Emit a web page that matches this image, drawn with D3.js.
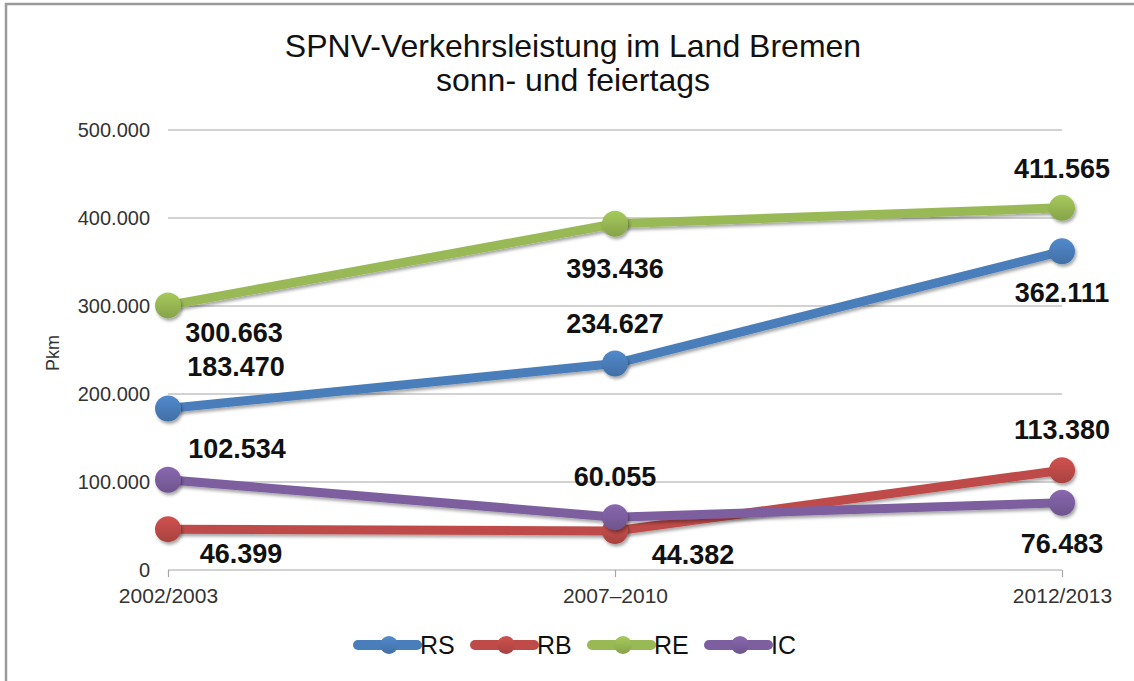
<!DOCTYPE html>
<html>
<head>
<meta charset="utf-8">
<script src="https://cdn.jsdelivr.net/npm/d3@7"></script>
<style>
  body { margin: 0; background: #fff; }
  svg { font-family: "Liberation Sans", Arial, sans-serif; }
</style>
</head>
<body>
<div id="chart"></div>
<script>
const categories = ["2002/2003", "2007\u20132010", "2012/2013"];
const seriesNames = ["RS", "RB", "RE", "IC"];
const rsValues = [183470, 234627, 362111];
const rbValues = [46399, 44382, 113380];
const reValues = [300663, 393436, 411565];
const icValues = [102534, 60055, 76483];
const yTicks = [0, 100000, 200000, 300000, 400000, 500000];

const colors = ["#4a7ebb", "#be4b48", "#98b954", "#7d5fa0"];
// label centre offsets (dx, dy from point), hand placed like the original
const labelOffsets = [
  [[68, -43], [0, -41], [0, 41]],
  [[73, 24], [78, 23], [0, -41]],
  [[66, 27], [0, 44], [0, -40]],
  [[69, -32], [0, -41], [0, 40]]
];

const series = seriesNames.map((name, i) => ({
  name, color: colors[i],
  values: [rsValues, rbValues, reValues, icValues][i]
}));

const width = 1134, height = 681;
const svg = d3.select("#chart").append("svg")
  .attr("width", width).attr("height", height);

const defs = svg.append("defs");
const shadow = defs.append("filter").attr("id", "shadow")
  .attr("x", "-20%").attr("y", "-20%").attr("width", "150%").attr("height", "150%");
shadow.append("feDropShadow").attr("dx", 1.5).attr("dy", 2.5)
  .attr("stdDeviation", 1.8).attr("flood-color", "#000").attr("flood-opacity", 0.35);

series.forEach((s, i) => {
  const g = defs.append("linearGradient").attr("id", "grad" + i)
    .attr("x1", 0).attr("y1", 0).attr("x2", 0).attr("y2", 1);
  g.append("stop").attr("offset", "0%").attr("stop-color", d3.color(s.color).brighter(0.25));
  g.append("stop").attr("offset", "100%").attr("stop-color", d3.color(s.color).darker(0.35));
});

// outer frame
svg.append("rect").attr("x", 6).attr("y", 4).attr("width", 1140).attr("height", 700)
  .attr("fill", "none").attr("stroke", "#9a9a9a").attr("stroke-width", 2.5);

const x = d3.scalePoint().domain(categories).range([168, 1062]);
const y = d3.scaleLinear().domain([0, 500000]).range([570, 130]);
const fmt = d3.formatLocale({ decimal: ",", thousands: ".", grouping: [3] }).format(",");

// gridlines
svg.append("g").selectAll("line").data(yTicks.slice(1)).join("line")
  .attr("x1", 168).attr("x2", 1062)
  .attr("y1", d => y(d)).attr("y2", d => y(d))
  .attr("stroke", "#a6a6a6").attr("stroke-width", 1.2);

// y tick labels
svg.append("g").selectAll("text").data(yTicks).join("text")
  .attr("x", 150).attr("y", d => y(d) + 7)
  .attr("text-anchor", "end").attr("font-size", 20).attr("fill", "#333")
  .text(d => fmt(d));

// x axis
const xAxis = svg.append("g").attr("transform", "translate(0,570)")
  .call(d3.axisBottom(x).tickSize(7).tickPadding(11).tickSizeOuter(0));
xAxis.select(".domain").attr("stroke", "#a6a6a6").attr("stroke-width", 1.2)
  .attr("d", "M168,0H1062");
xAxis.selectAll(".tick line").attr("stroke", "#a6a6a6").attr("stroke-width", 1.2);
xAxis.selectAll(".tick text").attr("font-size", 21).attr("fill", "#333")
  .attr("font-family", "Liberation Sans, Arial, sans-serif");

// y axis title
svg.append("text").attr("transform", "translate(59,353) rotate(-90)")
  .attr("text-anchor", "middle").attr("font-size", 18).attr("fill", "#333").text("Pkm");

// title
const title = svg.append("text").attr("x", 573).attr("text-anchor", "middle")
  .attr("font-size", 32).attr("fill", "#111");
title.append("tspan").attr("x", 573).attr("y", 57).text("SPNV-Verkehrsleistung im Land Bremen");
title.append("tspan").attr("x", 573).attr("y", 91).text("sonn- und feiertags");

// series
const line = d3.line().x((d, i) => x(categories[i])).y(d => y(d));
series.forEach((s, si) => {
  const g = svg.append("g");
  g.append("path").attr("d", line(s.values))
    .attr("fill", "none").attr("stroke", s.color).attr("stroke-width", 9)
    .attr("stroke-linejoin", "round").attr("filter", "url(#shadow)");
  g.selectAll("circle").data(s.values).join("circle")
    .attr("cx", (d, i) => x(categories[i])).attr("cy", d => y(d))
    .attr("r", 13).attr("fill", `url(#grad${si})`).attr("filter", "url(#shadow)");
});

// data labels
series.forEach((s, si) => {
  svg.append("g").selectAll("text").data(s.values).join("text")
    .attr("x", (d, i) => x(categories[i]) + labelOffsets[si][i][0])
    .attr("y", (d, i) => y(d) + labelOffsets[si][i][1] + 10)
    .attr("text-anchor", "middle").attr("font-size", 27).attr("font-weight", "bold")
    .attr("fill", "#111").text(d => fmt(d));
});

// legend
const legend = svg.append("g").attr("transform", "translate(358,645)");
const item = legend.selectAll("g").data(series).join("g")
  .attr("transform", (d, i) => `translate(${i * 117},0)`);
item.append("line").attr("x1", 0).attr("x2", 59)
  .attr("stroke", d => d.color).attr("stroke-width", 10).attr("stroke-linecap", "round");
item.append("circle").attr("cx", 31).attr("r", 9)
  .attr("fill", (d, i) => `url(#grad${i})`);
item.append("text").attr("x", 62).attr("y", 9).attr("font-size", 25).attr("fill", "#111")
  .text(d => d.name);
</script>
</body>
</html>
